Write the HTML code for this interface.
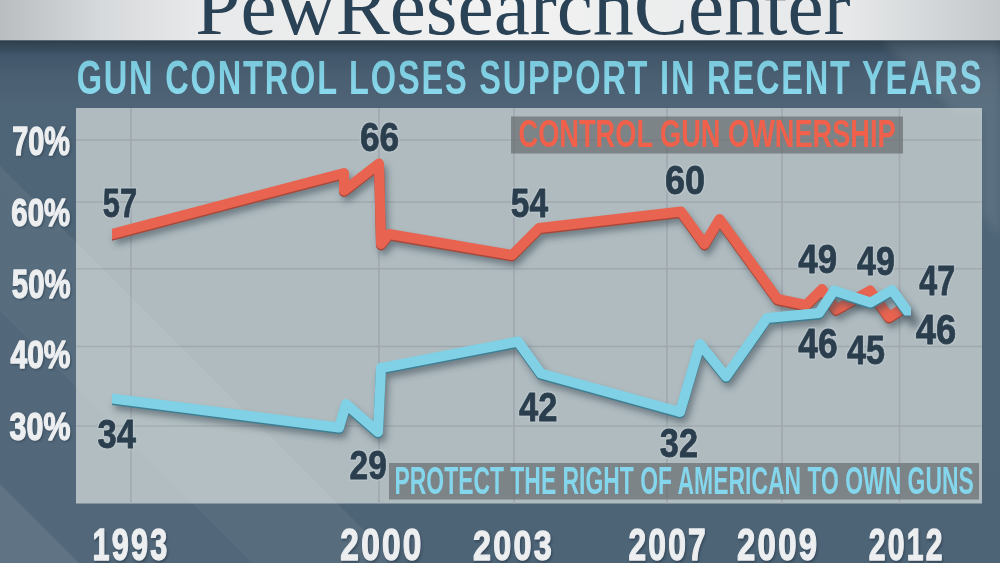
<!DOCTYPE html>
<html><head><meta charset="utf-8"><title>Gun control loses support in recent years</title>
<style>html,body{margin:0;padding:0;background:#4e6476;}body{width:1000px;height:563px;overflow:hidden;}svg{display:block;}</style>
</head><body>
<svg width="1000" height="563" viewBox="0 0 1000 563">
<defs>
<linearGradient id="hdr" x1="0" y1="0" x2="1" y2="0">
<stop offset="0" stop-color="#b9bdc0"/><stop offset="0.1" stop-color="#d6d9db"/><stop offset="0.2" stop-color="#e8e9ea"/><stop offset="0.5" stop-color="#f2f2f2"/><stop offset="0.85" stop-color="#e6e8e9"/><stop offset="1" stop-color="#c4c8cb"/>
</linearGradient>
<linearGradient id="bgv" x1="0" y1="40" x2="0" y2="563" gradientUnits="userSpaceOnUse">
<stop offset="0" stop-color="#2c3d4b"/><stop offset="0.008" stop-color="#324554"/><stop offset="0.03" stop-color="#41566a"/><stop offset="0.07" stop-color="#4a5f71"/><stop offset="0.13" stop-color="#4e6577"/><stop offset="1" stop-color="#4d6476"/>
</linearGradient>
<linearGradient id="ttl" x1="0" y1="-34" x2="0" y2="0" gradientUnits="userSpaceOnUse">
<stop offset="0" stop-color="#7ac8dc"/><stop offset="1" stop-color="#8ad8ec"/>
</linearGradient>
<clipPath id="below"><rect x="0" y="40.3" width="1000" height="524"/></clipPath>
<clipPath id="lstart"><rect x="112" y="0" width="900" height="563"/></clipPath>
<clipPath id="bend"><polygon points="112,0 911,0 911,315.5 895,315.5 895,563 112,563"/></clipPath>
<filter id="sh" x="-10%" y="-10%" width="120%" height="130%"><feGaussianBlur stdDeviation="3.5"/></filter>
<filter id="soft" x="-20%" y="-20%" width="140%" height="140%"><feGaussianBlur stdDeviation="5"/></filter>
<filter id="tsh" x="-20%" y="-20%" width="140%" height="140%"><feGaussianBlur stdDeviation="0.8"/></filter>
</defs>
<rect width="1000" height="563" fill="url(#bgv)"/>
<rect x="0" y="0" width="1000" height="40.3" fill="url(#hdr)"/>
<text transform="translate(195.25 34.00) scale(1.0098 1)" font-size="80.61" font-family='"Liberation Serif", serif' fill="#2a4256" >PewResearchCenter</text>
<text transform="translate(76.66 94.03) scale(0.6782 1)" font-size="48.02" font-family='"Liberation Sans", sans-serif' font-weight="bold" fill="url(#ttl)"  letter-spacing="2.654">GUN CONTROL LOSES SUPPORT IN RECENT YEARS</text>
<rect x="76" y="108" width="906" height="395.5" fill="#afbbbf"/>
<line x1="76" y1="140" x2="982" y2="140" stroke="#a1a8af" stroke-width="1.6"/>
<line x1="76" y1="202" x2="982" y2="202" stroke="#a1a8af" stroke-width="1.6"/>
<line x1="76" y1="268.7" x2="982" y2="268.7" stroke="#a1a8af" stroke-width="1.6"/>
<line x1="76" y1="346.5" x2="982" y2="346.5" stroke="#a1a8af" stroke-width="1.6"/>
<line x1="76" y1="426" x2="982" y2="426" stroke="#a1a8af" stroke-width="1.6"/>
<line x1="131" y1="108" x2="131" y2="503.5" stroke="#a1a8af" stroke-width="1.6"/>
<line x1="379" y1="108" x2="379" y2="503.5" stroke="#a1a8af" stroke-width="1.6"/>
<line x1="514" y1="108" x2="514" y2="503.5" stroke="#a1a8af" stroke-width="1.6"/>
<line x1="667" y1="108" x2="667" y2="503.5" stroke="#a1a8af" stroke-width="1.6"/>
<line x1="782" y1="108" x2="782" y2="503.5" stroke="#a1a8af" stroke-width="1.6"/>
<line x1="899.5" y1="108" x2="899.5" y2="503.5" stroke="#a1a8af" stroke-width="1.6"/>
<g clip-path="url(#below)"><polygon points="-600,-434 1600,1766 1600,1911 -600,-289" fill="#ffffff" opacity="0.06"/><polygon points="-600,-289 1600,1911 1600,2084 -600,-116" fill="#ffffff" opacity="0.03"/><polygon points="-600,-116 1600,2084 1600,3600 -600,1400" fill="#ffffff" opacity="0.1"/><polygon points="880,39 1000,39 1000,240 982,214 982,112 955,112" fill="#ffffff" opacity="0.08" filter="url(#soft)"/></g>
<rect x="511" y="116.5" width="392" height="37" fill="#606264" opacity="0.62"/>
<text transform="translate(518.58 147.13) scale(0.7106 1)" font-size="38.28" font-family='"Liberation Sans", sans-serif' font-weight="bold" fill="#f0604a" >CONTROL GUN OWNERSHIP</text>
<rect x="389" y="463" width="590" height="36.5" fill="#606264" opacity="0.62"/>
<text transform="translate(394.47 494.32) scale(0.5862 1)" font-size="39.12" font-family='"Liberation Sans", sans-serif' font-weight="bold" fill="#84d6ec" >PROTECT THE RIGHT OF AMERICAN TO OWN GUNS</text>
<polyline points="115.0,240.0 347.0,179.0 347.0,196.5 382.0,169.5 384.0,250.0 392.0,240.0 515.0,261.0 542.0,234.0 684.0,217.5 707.5,250.0 722.5,225.0 780.5,305.0 809.0,311.0 825.0,295.0 839.0,315.5 873.0,296.5 892.0,323.0 911.0,311.0" fill="none" stroke="#34414e" stroke-opacity="0.55" stroke-width="10" stroke-linejoin="round" filter="url(#sh)"/>
<g clip-path="url(#lstart)"><polyline points="106.0,237.1 344.0,174.5 344.0,192.0 379.0,165.0 381.0,245.5 389.0,235.5 512.0,256.5 539.0,229.5 681.0,213.0 704.5,245.5 719.5,220.5 777.5,300.5 806.0,306.5 822.0,290.5 836.0,311.0 870.0,292.0 889.0,318.5 908.0,306.5" fill="none" stroke="#a8483a" stroke-width="10" stroke-linejoin="round"/>
<polyline points="106.0,235.6 344.0,173.0 344.0,190.5 379.0,163.5 381.0,244.0 389.0,234.0 512.0,255.0 539.0,228.0 681.0,211.5 704.5,244.0 719.5,219.0 777.5,299.0 806.0,305.0 822.0,289.0 836.0,309.5 870.0,290.5 889.0,317.0 908.0,305.0" fill="none" stroke="#e86450" stroke-width="10" stroke-linejoin="round"/></g>
<polyline points="115.0,404.5 342.0,433.5 349.0,410.0 381.0,438.0 384.0,374.0 521.0,347.5 544.0,379.5 683.0,418.0 703.0,350.0 729.0,382.5 770.0,324.0 822.0,319.0 837.0,296.5 873.5,308.5 895.0,296.0 917.0,326.0" fill="none" stroke="#34414e" stroke-opacity="0.55" stroke-width="10" stroke-linejoin="round" filter="url(#sh)"/>
<g clip-path="url(#bend)"><polyline points="106.0,399.2 339.0,429.0 346.0,405.5 378.0,433.5 381.0,369.5 518.0,343.0 541.0,375.0 680.0,413.5 700.0,345.5 726.0,378.0 767.0,319.5 819.0,314.5 834.0,292.0 870.5,304.0 892.0,291.5 914.0,321.5" fill="none" stroke="#3e7f93" stroke-width="10" stroke-linejoin="round"/>
<polyline points="106.0,397.7 339.0,427.5 346.0,404.0 378.0,432.0 381.0,368.0 518.0,341.5 541.0,373.5 680.0,412.0 700.0,344.0 726.0,376.5 767.0,318.0 819.0,313.0 834.0,290.5 870.5,302.5 892.0,290.0 914.0,320.0" fill="none" stroke="#80d1e5" stroke-width="10" stroke-linejoin="round"/></g>
<g opacity="0.5"><text transform="translate(102.75 216.50) scale(0.7498 1)" font-size="41.13" font-family='"Liberation Sans", sans-serif' font-weight="bold" fill="#c3ccd1" stroke="#c3ccd1" stroke-width="4" stroke-linejoin="round" >57</text><text transform="translate(359.90 150.69) scale(0.8525 1)" font-size="41.52" font-family='"Liberation Sans", sans-serif' font-weight="bold" fill="#c3ccd1" stroke="#c3ccd1" stroke-width="4" stroke-linejoin="round" >66</text><text transform="translate(510.87 217.40) scale(0.8127 1)" font-size="41.28" font-family='"Liberation Sans", sans-serif' font-weight="bold" fill="#c3ccd1" stroke="#c3ccd1" stroke-width="4" stroke-linejoin="round" >54</text><text transform="translate(665.08 193.80) scale(0.8741 1)" font-size="41.24" font-family='"Liberation Sans", sans-serif' font-weight="bold" fill="#c3ccd1" stroke="#c3ccd1" stroke-width="4" stroke-linejoin="round" >60</text><text transform="translate(798.37 273.20) scale(0.8551 1)" font-size="40.82" font-family='"Liberation Sans", sans-serif' font-weight="bold" fill="#c3ccd1" stroke="#c3ccd1" stroke-width="4" stroke-linejoin="round" >49</text><text transform="translate(857.08 275.20) scale(0.8257 1)" font-size="41.24" font-family='"Liberation Sans", sans-serif' font-weight="bold" fill="#c3ccd1" stroke="#c3ccd1" stroke-width="4" stroke-linejoin="round" >49</text><text transform="translate(919.21 294.90) scale(0.7658 1)" font-size="42.15" font-family='"Liberation Sans", sans-serif' font-weight="bold" fill="#c3ccd1" stroke="#c3ccd1" stroke-width="4" stroke-linejoin="round" >47</text><text transform="translate(798.37 358.29) scale(0.8482 1)" font-size="41.67" font-family='"Liberation Sans", sans-serif' font-weight="bold" fill="#c3ccd1" stroke="#c3ccd1" stroke-width="4" stroke-linejoin="round" >46</text><text transform="translate(846.88 363.80) scale(0.8292 1)" font-size="41.28" font-family='"Liberation Sans", sans-serif' font-weight="bold" fill="#c3ccd1" stroke="#c3ccd1" stroke-width="4" stroke-linejoin="round" >45</text><text transform="translate(915.85 343.89) scale(0.8731 1)" font-size="41.67" font-family='"Liberation Sans", sans-serif' font-weight="bold" fill="#c3ccd1" stroke="#c3ccd1" stroke-width="4" stroke-linejoin="round" >46</text><text transform="translate(97.41 448.14) scale(0.8377 1)" font-size="41.30" font-family='"Liberation Sans", sans-serif' font-weight="bold" fill="#c3ccd1" stroke="#c3ccd1" stroke-width="4" stroke-linejoin="round" >34</text><text transform="translate(349.54 478.69) scale(0.8077 1)" font-size="41.52" font-family='"Liberation Sans", sans-serif' font-weight="bold" fill="#c3ccd1" stroke="#c3ccd1" stroke-width="4" stroke-linejoin="round" >29</text><text transform="translate(519.08 420.50) scale(0.8342 1)" font-size="41.39" font-family='"Liberation Sans", sans-serif' font-weight="bold" fill="#c3ccd1" stroke="#c3ccd1" stroke-width="4" stroke-linejoin="round" >42</text><text transform="translate(659.81 456.73) scale(0.8279 1)" font-size="41.44" font-family='"Liberation Sans", sans-serif' font-weight="bold" fill="#c3ccd1" stroke="#c3ccd1" stroke-width="4" stroke-linejoin="round" >32</text></g>
<text transform="translate(102.75 216.50) scale(0.7498 1)" font-size="41.13" font-family='"Liberation Sans", sans-serif' font-weight="bold" fill="#2b3e4e" stroke="#2b3e4e" stroke-width="0.8" stroke-linejoin="round" >57</text>
<text transform="translate(359.90 150.69) scale(0.8525 1)" font-size="41.52" font-family='"Liberation Sans", sans-serif' font-weight="bold" fill="#2b3e4e" stroke="#2b3e4e" stroke-width="0.8" stroke-linejoin="round" >66</text>
<text transform="translate(510.87 217.40) scale(0.8127 1)" font-size="41.28" font-family='"Liberation Sans", sans-serif' font-weight="bold" fill="#2b3e4e" stroke="#2b3e4e" stroke-width="0.8" stroke-linejoin="round" >54</text>
<text transform="translate(665.08 193.80) scale(0.8741 1)" font-size="41.24" font-family='"Liberation Sans", sans-serif' font-weight="bold" fill="#2b3e4e" stroke="#2b3e4e" stroke-width="0.8" stroke-linejoin="round" >60</text>
<text transform="translate(798.37 273.20) scale(0.8551 1)" font-size="40.82" font-family='"Liberation Sans", sans-serif' font-weight="bold" fill="#2b3e4e" stroke="#2b3e4e" stroke-width="0.8" stroke-linejoin="round" >49</text>
<text transform="translate(857.08 275.20) scale(0.8257 1)" font-size="41.24" font-family='"Liberation Sans", sans-serif' font-weight="bold" fill="#2b3e4e" stroke="#2b3e4e" stroke-width="0.8" stroke-linejoin="round" >49</text>
<text transform="translate(919.21 294.90) scale(0.7658 1)" font-size="42.15" font-family='"Liberation Sans", sans-serif' font-weight="bold" fill="#2b3e4e" stroke="#2b3e4e" stroke-width="0.8" stroke-linejoin="round" >47</text>
<text transform="translate(798.37 358.29) scale(0.8482 1)" font-size="41.67" font-family='"Liberation Sans", sans-serif' font-weight="bold" fill="#2b3e4e" stroke="#2b3e4e" stroke-width="0.8" stroke-linejoin="round" >46</text>
<text transform="translate(846.88 363.80) scale(0.8292 1)" font-size="41.28" font-family='"Liberation Sans", sans-serif' font-weight="bold" fill="#2b3e4e" stroke="#2b3e4e" stroke-width="0.8" stroke-linejoin="round" >45</text>
<text transform="translate(915.85 343.89) scale(0.8731 1)" font-size="41.67" font-family='"Liberation Sans", sans-serif' font-weight="bold" fill="#2b3e4e" stroke="#2b3e4e" stroke-width="0.8" stroke-linejoin="round" >46</text>
<text transform="translate(97.41 448.14) scale(0.8377 1)" font-size="41.30" font-family='"Liberation Sans", sans-serif' font-weight="bold" fill="#2b3e4e" stroke="#2b3e4e" stroke-width="0.8" stroke-linejoin="round" >34</text>
<text transform="translate(349.54 478.69) scale(0.8077 1)" font-size="41.52" font-family='"Liberation Sans", sans-serif' font-weight="bold" fill="#2b3e4e" stroke="#2b3e4e" stroke-width="0.8" stroke-linejoin="round" >29</text>
<text transform="translate(519.08 420.50) scale(0.8342 1)" font-size="41.39" font-family='"Liberation Sans", sans-serif' font-weight="bold" fill="#2b3e4e" stroke="#2b3e4e" stroke-width="0.8" stroke-linejoin="round" >42</text>
<text transform="translate(659.81 456.73) scale(0.8279 1)" font-size="41.44" font-family='"Liberation Sans", sans-serif' font-weight="bold" fill="#2b3e4e" stroke="#2b3e4e" stroke-width="0.8" stroke-linejoin="round" >32</text>
<g opacity="0.6" filter="url(#tsh)"><text transform="translate(13.16 156.20) scale(0.7088 1)" font-size="40.82" font-family='"Liberation Sans", sans-serif' font-weight="bold" fill="#27384a" stroke="#27384a" stroke-width="1.4" stroke-linejoin="round" >70%</text><text transform="translate(12.33 227.42) scale(0.7503 1)" font-size="39.12" font-family='"Liberation Sans", sans-serif' font-weight="bold" fill="#27384a" stroke="#27384a" stroke-width="1.4" stroke-linejoin="round" >60%</text><text transform="translate(12.80 299.00) scale(0.7133 1)" font-size="41.24" font-family='"Liberation Sans", sans-serif' font-weight="bold" fill="#27384a" stroke="#27384a" stroke-width="1.4" stroke-linejoin="round" >50%</text><text transform="translate(11.45 369.41) scale(0.7586 1)" font-size="39.55" font-family='"Liberation Sans", sans-serif' font-weight="bold" fill="#27384a" stroke="#27384a" stroke-width="1.4" stroke-linejoin="round" >40%</text><text transform="translate(10.60 441.26) scale(0.7850 1)" font-size="38.76" font-family='"Liberation Sans", sans-serif' font-weight="bold" fill="#27384a" stroke="#27384a" stroke-width="1.4" stroke-linejoin="round" >30%</text><text transform="translate(93.57 561.81) scale(0.7043 1)" font-size="43.55" font-family='"Liberation Sans", sans-serif' font-weight="bold" fill="#27384a" stroke="#27384a" stroke-width="1.4" stroke-linejoin="round"  letter-spacing="3.124">1993</text><text transform="translate(341.34 561.88) scale(0.7691 1)" font-size="43.50" font-family='"Liberation Sans", sans-serif' font-weight="bold" fill="#27384a" stroke="#27384a" stroke-width="1.4" stroke-linejoin="round"  letter-spacing="2.860">2000</text><text transform="translate(474.08 561.81) scale(0.7465 1)" font-size="43.41" font-family='"Liberation Sans", sans-serif' font-weight="bold" fill="#27384a" stroke="#27384a" stroke-width="1.4" stroke-linejoin="round"  letter-spacing="2.947">2003</text><text transform="translate(629.40 561.87) scale(0.7235 1)" font-size="43.93" font-family='"Liberation Sans", sans-serif' font-weight="bold" fill="#27384a" stroke="#27384a" stroke-width="1.4" stroke-linejoin="round"  letter-spacing="3.041">2007</text><text transform="translate(738.06 561.87) scale(0.7508 1)" font-size="43.93" font-family='"Liberation Sans", sans-serif' font-weight="bold" fill="#27384a" stroke="#27384a" stroke-width="1.4" stroke-linejoin="round"  letter-spacing="2.930">2009</text><text transform="translate(869.86 561.88) scale(0.6929 1)" font-size="43.50" font-family='"Liberation Sans", sans-serif' font-weight="bold" fill="#27384a" stroke="#27384a" stroke-width="1.4" stroke-linejoin="round"  letter-spacing="3.175">2012</text></g>
<text transform="translate(12.16 154.70) scale(0.7088 1)" font-size="40.82" font-family='"Liberation Sans", sans-serif' font-weight="bold" fill="#eceef0" stroke="#eceef0" stroke-width="1.4" stroke-linejoin="round" >70%</text>
<text transform="translate(11.33 225.92) scale(0.7503 1)" font-size="39.12" font-family='"Liberation Sans", sans-serif' font-weight="bold" fill="#eceef0" stroke="#eceef0" stroke-width="1.4" stroke-linejoin="round" >60%</text>
<text transform="translate(11.80 297.50) scale(0.7133 1)" font-size="41.24" font-family='"Liberation Sans", sans-serif' font-weight="bold" fill="#eceef0" stroke="#eceef0" stroke-width="1.4" stroke-linejoin="round" >50%</text>
<text transform="translate(10.45 367.91) scale(0.7586 1)" font-size="39.55" font-family='"Liberation Sans", sans-serif' font-weight="bold" fill="#eceef0" stroke="#eceef0" stroke-width="1.4" stroke-linejoin="round" >40%</text>
<text transform="translate(9.60 439.76) scale(0.7850 1)" font-size="38.76" font-family='"Liberation Sans", sans-serif' font-weight="bold" fill="#eceef0" stroke="#eceef0" stroke-width="1.4" stroke-linejoin="round" >30%</text>
<text transform="translate(92.57 560.31) scale(0.7043 1)" font-size="43.55" font-family='"Liberation Sans", sans-serif' font-weight="bold" fill="#eceef0" stroke="#eceef0" stroke-width="1.4" stroke-linejoin="round"  letter-spacing="3.124">1993</text>
<text transform="translate(340.34 560.38) scale(0.7691 1)" font-size="43.50" font-family='"Liberation Sans", sans-serif' font-weight="bold" fill="#eceef0" stroke="#eceef0" stroke-width="1.4" stroke-linejoin="round"  letter-spacing="2.860">2000</text>
<text transform="translate(473.08 560.31) scale(0.7465 1)" font-size="43.41" font-family='"Liberation Sans", sans-serif' font-weight="bold" fill="#eceef0" stroke="#eceef0" stroke-width="1.4" stroke-linejoin="round"  letter-spacing="2.947">2003</text>
<text transform="translate(628.40 560.37) scale(0.7235 1)" font-size="43.93" font-family='"Liberation Sans", sans-serif' font-weight="bold" fill="#eceef0" stroke="#eceef0" stroke-width="1.4" stroke-linejoin="round"  letter-spacing="3.041">2007</text>
<text transform="translate(737.06 560.37) scale(0.7508 1)" font-size="43.93" font-family='"Liberation Sans", sans-serif' font-weight="bold" fill="#eceef0" stroke="#eceef0" stroke-width="1.4" stroke-linejoin="round"  letter-spacing="2.930">2009</text>
<text transform="translate(868.86 560.38) scale(0.6929 1)" font-size="43.50" font-family='"Liberation Sans", sans-serif' font-weight="bold" fill="#eceef0" stroke="#eceef0" stroke-width="1.4" stroke-linejoin="round"  letter-spacing="3.175">2012</text>
</svg>
</body></html>
